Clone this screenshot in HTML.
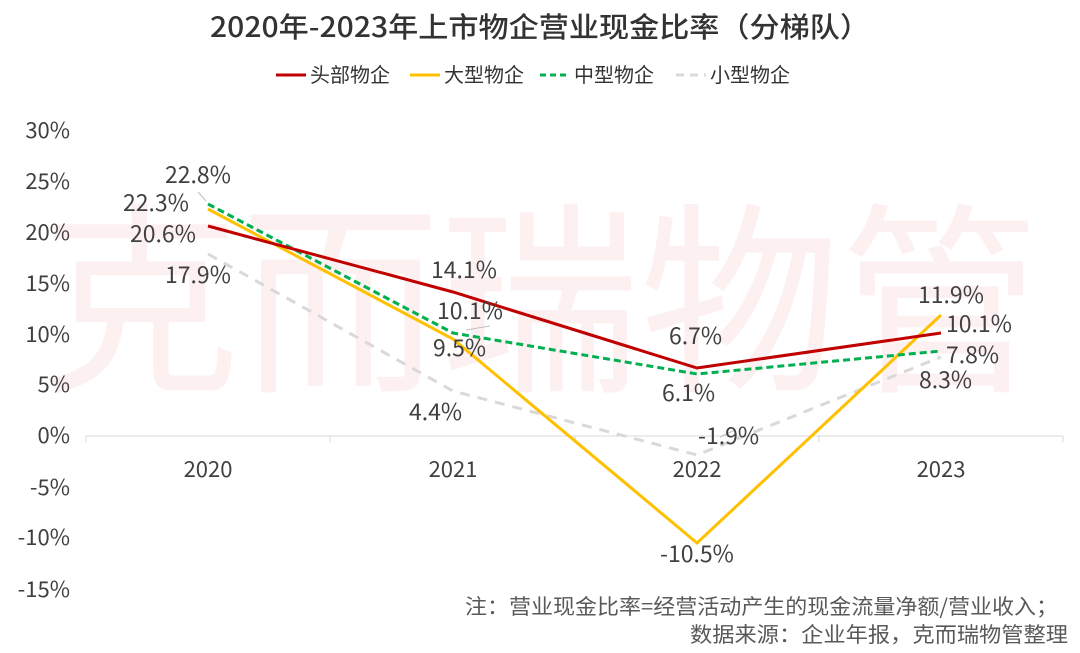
<!DOCTYPE html>
<html><head><meta charset="utf-8"><style>
body{margin:0;background:#fff;}
svg{display:block;font-family:"Noto Sans CJK SC","Liberation Sans",sans-serif;}
</style></head><body>
<svg width="1080" height="653" viewBox="0 0 1080 653" xmlns="http://www.w3.org/2000/svg">
<rect width="1080" height="653" fill="#fff"/>
<text x="540" y="376" text-anchor="middle" font-size="205" fill="#fdf0f0" textLength="1000" lengthAdjust="spacingAndGlyphs">克而瑞物管</text>
<text x="540" y="37" text-anchor="middle" font-size="28" fill="#333" font-weight="500" textLength="660" lengthAdjust="spacingAndGlyphs">2020年-2023年上市物企营业现金比率（分梯队）</text>
<g font-size="20" fill="#333">
<line x1="276" y1="75" x2="306" y2="75" stroke="#c00000" stroke-width="3"/><text x="310" y="82">头部物企</text>
<line x1="410" y1="75" x2="440" y2="75" stroke="#ffc000" stroke-width="3"/><text x="444" y="82">大型物企</text>
<line x1="540" y1="75" x2="570" y2="75" stroke="#00b050" stroke-width="3" stroke-dasharray="6,4"/><text x="574" y="82">中型物企</text>
<line x1="676" y1="75" x2="706" y2="75" stroke="#d9d9d9" stroke-width="3" stroke-dasharray="8,6"/><text x="710" y="82">小型物企</text>
</g>
<g font-size="22" fill="#404040" text-anchor="end">
<text x="70" y="138">30%</text><text x="70" y="189">25%</text><text x="70" y="240">20%</text>
<text x="70" y="291">15%</text><text x="70" y="342">10%</text><text x="70" y="392">5%</text>
<text x="70" y="443">0%</text><text x="70" y="495">-5%</text><text x="70" y="545">-10%</text><text x="70" y="597">-15%</text>
</g>
<line x1="86" y1="436" x2="1063" y2="436" stroke="#d9d9d9" stroke-width="1"/>
<g stroke="#d9d9d9"><line x1="86" y1="436" x2="86" y2="442"/><line x1="330" y1="436" x2="330" y2="442"/><line x1="575" y1="436" x2="575" y2="442"/><line x1="819" y1="436" x2="819" y2="442"/><line x1="1063" y1="436" x2="1063" y2="442"/></g>
<g font-size="22" fill="#404040" text-anchor="middle">
<text x="208" y="477">2020</text><text x="453" y="477">2021</text><text x="697" y="477">2022</text><text x="941" y="477">2023</text>
</g>
<polyline points="208,254 453,391 697,455 941,357" fill="none" stroke="#d9d9d9" stroke-width="3" stroke-dasharray="10,8"/>
<polyline points="208,209 453,339 697,543 941,315" fill="none" stroke="#ffc000" stroke-width="3"/>
<polyline points="208,204 453,333 697,374 941,351" fill="none" stroke="#00b050" stroke-width="3" stroke-dasharray="7,4"/>
<polyline points="208,226 453,292 697,368 941,333" fill="none" stroke="#c00000" stroke-width="3"/>
<g stroke="#bfbfbf" stroke-width="1"><line x1="198" y1="192" x2="206" y2="201"/><line x1="466" y1="330" x2="490" y2="326"/><line x1="720" y1="437" x2="735" y2="430"/></g>
<g font-size="23" fill="#404040">
<text x="165" y="183">22.8%</text><text x="123" y="211">22.3%</text><text x="130" y="242">20.6%</text><text x="165" y="283">17.9%</text>
<text x="431" y="278">14.1%</text><text x="437" y="319">10.1%</text><text x="433" y="356">9.5%</text><text x="409" y="420">4.4%</text>
<text x="669" y="344">6.7%</text><text x="662" y="401">6.1%</text><text x="698" y="444">-1.9%</text><text x="660" y="562">-10.5%</text>
<text x="918" y="303">11.9%</text><text x="946" y="332">10.1%</text><text x="946" y="363">7.8%</text><text x="919" y="388">8.3%</text>
</g>
<g font-size="21" fill="#595959" text-anchor="end">
<text x="1058" y="614" textLength="593" lengthAdjust="spacingAndGlyphs">注：营业现金比率=经营活动产生的现金流量净额/营业收入；</text>
<text x="1068" y="642" textLength="378" lengthAdjust="spacingAndGlyphs">数据来源：企业年报，克而瑞物管整理</text>
</g>
</svg>
</body></html>
